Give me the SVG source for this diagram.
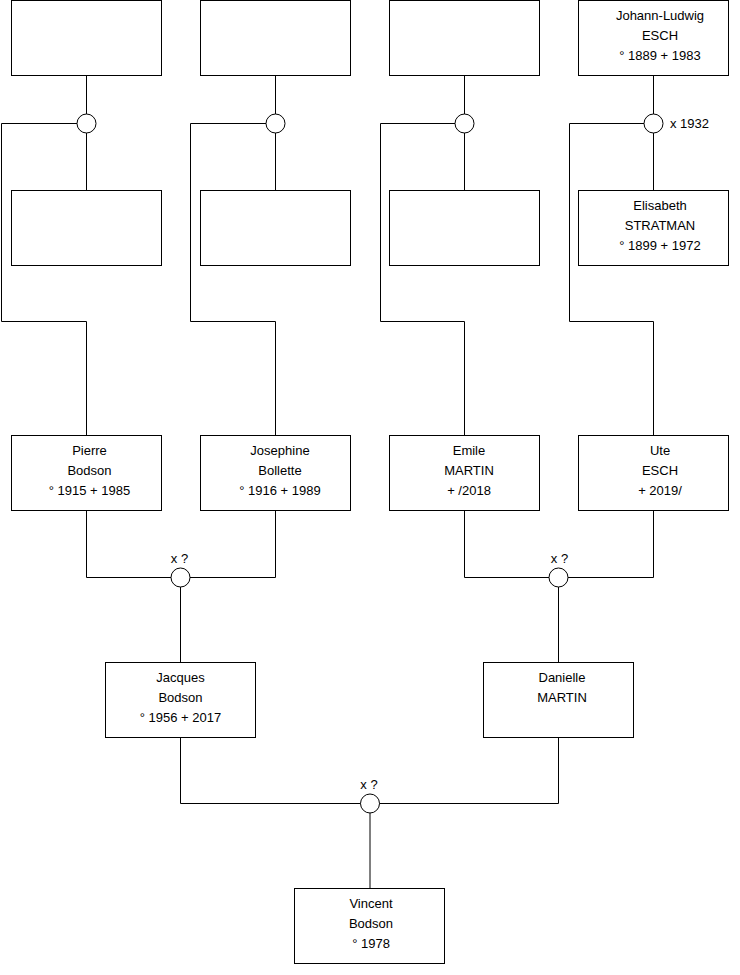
<svg xmlns="http://www.w3.org/2000/svg" width="740" height="975" viewBox="0 0 740 975">
<style>
.box{fill:#fff;stroke:#000;stroke-width:1}
.knot{fill:#fff;stroke:#000;stroke-width:1}
.wire{fill:none;stroke:#000;stroke-width:1}
text{font-family:"Liberation Sans",Arial,sans-serif;font-size:13px;fill:#000}
.c{text-anchor:middle}
</style>
<rect width="740" height="975" fill="#fff"/>
<g id="connectors">
<path class="wire" d="M86.5 75.5V190.5M275.5 75.5V190.5M464.5 75.5V190.5M653.5 75.5V190.5"/>
<path class="wire" d="M77 123.5H1.5V321.5H86.5V435.5"/>
<path class="wire" d="M266 123.5H190.5V321.5H275.5V435.5"/>
<path class="wire" d="M455 123.5H380.5V321.5H464.5V435.5"/>
<path class="wire" d="M644 123.5H569.5V321.5H653.5V435.5"/>
<path class="wire" d="M86.5 510.5V577.5H275.5V510.5M180.5 577.5V662.5"/>
<path class="wire" d="M464.5 510.5V577.5H653.5V510.5M558.5 577.5V662.5"/>
<path class="wire" d="M180.5 737.5V803.5H558.5V737.5M370 803.5V888.5"/>
</g>
<g id="unions">
<circle class="knot" cx="86.5" cy="123.5" r="9.5"/>
<circle class="knot" cx="275.5" cy="123.5" r="9.5"/>
<circle class="knot" cx="464.5" cy="123.5" r="9.5"/>
<circle class="knot" cx="653.5" cy="123.5" r="9.5"/>
<text x="670" y="128">x 1932</text>
<circle class="knot" cx="180.5" cy="577.5" r="9.5"/>
<text class="c" x="179.5" y="563">x ?</text>
<circle class="knot" cx="558.5" cy="577.5" r="9.5"/>
<text class="c" x="559.5" y="563">x ?</text>
<circle class="knot" cx="370" cy="803.5" r="9.5"/>
<text class="c" x="369" y="789">x ?</text>
</g>
<g id="n1"><rect class="box" x="11.5" y="0.5" width="150" height="75"/></g>
<g id="n2"><rect class="box" x="200.5" y="0.5" width="150" height="75"/></g>
<g id="n3"><rect class="box" x="389.5" y="0.5" width="150" height="75"/></g>
<g id="johann"><rect class="box" x="578.5" y="0.5" width="150" height="75"/>
<text class="c" x="660" y="20">Johann-Ludwig</text><text class="c" x="660" y="40">ESCH</text><text class="c" x="660" y="60">° 1889 + 1983</text></g>
<g id="n5"><rect class="box" x="11.5" y="190.5" width="150" height="75"/></g>
<g id="n6"><rect class="box" x="200.5" y="190.5" width="150" height="75"/></g>
<g id="n7"><rect class="box" x="389.5" y="190.5" width="150" height="75"/></g>
<g id="elisabeth"><rect class="box" x="578.5" y="190.5" width="150" height="75"/>
<text class="c" x="660" y="210">Elisabeth</text><text class="c" x="660" y="230">STRATMAN</text><text class="c" x="660" y="250">° 1899 + 1972</text></g>
<g id="pierre"><rect class="box" x="11.5" y="435.5" width="150" height="75"/>
<text class="c" x="89.5" y="455">Pierre</text><text class="c" x="89.5" y="475">Bodson</text><text class="c" x="89.5" y="495">° 1915 + 1985</text></g>
<g id="josephine"><rect class="box" x="200.5" y="435.5" width="150" height="75"/>
<text class="c" x="280" y="455">Josephine</text><text class="c" x="280" y="475">Bollette</text><text class="c" x="280" y="495">° 1916 + 1989</text></g>
<g id="emile"><rect class="box" x="389.5" y="435.5" width="150" height="75"/>
<text class="c" x="469" y="455">Emile</text><text class="c" x="469" y="475">MARTIN</text><text class="c" x="469" y="495">+ /2018</text></g>
<g id="ute"><rect class="box" x="578.5" y="435.5" width="150" height="75"/>
<text class="c" x="660" y="455">Ute</text><text class="c" x="660" y="475">ESCH</text><text class="c" x="660" y="495">+ 2019/</text></g>
<g id="jacques"><rect class="box" x="105.5" y="662.5" width="150" height="75"/>
<text class="c" x="180.5" y="682">Jacques</text><text class="c" x="180.5" y="702">Bodson</text><text class="c" x="180.5" y="722">° 1956 + 2017</text></g>
<g id="danielle"><rect class="box" x="483.5" y="662.5" width="150" height="75"/>
<text class="c" x="562" y="682">Danielle</text><text class="c" x="562" y="702">MARTIN</text></g>
<g id="vincent"><rect class="box" x="294.5" y="888.5" width="150" height="75"/>
<text class="c" x="371" y="908">Vincent</text><text class="c" x="371" y="928">Bodson</text><text class="c" x="371" y="948">° 1978</text></g>
</svg>
